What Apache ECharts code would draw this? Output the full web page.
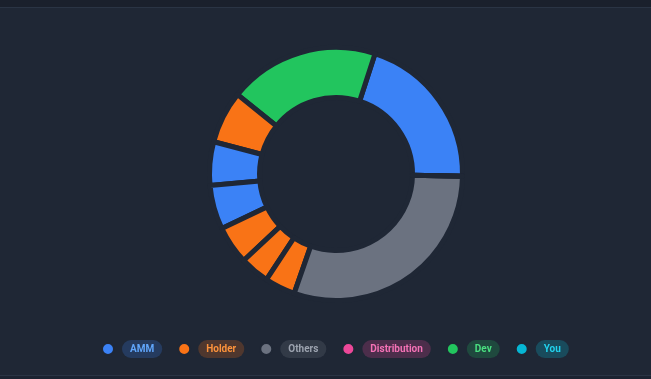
<!DOCTYPE html>
<html>
<head>
<meta charset="utf-8">
<script src="https://cdn.jsdelivr.net/npm/echarts@6/dist/echarts.min.js"></script>
<style>
html,body{margin:0;padding:0;width:651px;height:379px;overflow:hidden;}
body{background:linear-gradient(to bottom,#1a202c 0px,#1a202c 7px,#2a3444 7px,#2a3444 8px,#1f2735 8px,#1f2735 375px,#2a3444 375px,#2a3444 376px,#1c2331 376px);}
#chart{width:651px;height:379px;}
</style>
</head>
<body>
<div id="chart"></div>
<script>
// Legend categories
const categories = ['AMM', 'Holder', 'Others', 'Distribution', 'Dev', 'You'];
const categoryColors = ['#3b82f6', '#f97316', '#6b7280', '#ec4899', '#22c55e', '#06b6d4'];
const categoryText = ['#60a5fa', '#fb923c', '#9ca3af', '#f472b6', '#4ade80', '#22d3ee'];
const categoryPill = ['rgba(59,130,246,0.22)', 'rgba(249,115,22,0.22)', 'rgba(107,114,128,0.25)', 'rgba(236,72,153,0.22)', 'rgba(34,197,94,0.22)', 'rgba(6,182,212,0.25)'];

// Slices (counter-clockwise from the right), each with its category and share (%)
const sliceCategory = ['AMM', 'Dev', 'Holder', 'AMM', 'AMM', 'Holder', 'Holder', 'Holder', 'Others', 'Distribution', 'You'];
const sliceValue = [20.3, 19.2, 6.7, 5.55, 5.65, 4.9, 3.75, 3.9, 30.1, 0, 0];

const chart = echarts.init(document.getElementById('chart'), null, {renderer: 'canvas'});

const pieData = sliceCategory.map((c, i) => ({
  name: c,
  value: sliceValue[i],
  itemStyle: {color: categoryColors[categories.indexOf(c)]}
}));

const legendData = categories.map((c, i) => ({
  name: c,
  itemStyle: {color: categoryColors[i]},
  textStyle: {
    rich: {
      s: {width: 3},
      n: {
        color: categoryText[i],
        backgroundColor: categoryPill[i],
        fontFamily: 'Roboto',
        fontSize: 10,
        fontWeight: 'bold',
        lineHeight: 11,
        padding: [4, 8],
        borderRadius: 10
      }
    }
  }
}));

chart.setOption({
  backgroundColor: 'transparent',
  animation: false,
  legend: {
    left: 101,
    top: 340,
    padding: 0,
    icon: 'circle',
    itemWidth: 12,
    itemHeight: 12,
    itemGap: 15,
    selectedMode: false,
    data: legendData,
    formatter: function (name) { return '{s|}{n|' + name + '}'; },
    textStyle: {fontFamily: 'Roboto', fontSize: 10}
  },
  series: [{
    type: 'pie',
    center: [336, 174],
    radius: [76.5, 126.5],
    startAngle: -1,
    clockwise: false,
    label: {show: false},
    labelLine: {show: false},
    emphasis: {disabled: true},
    itemStyle: {borderColor: '#1f2735', borderWidth: 5},
    data: pieData
  }]
});
</script>
</body>
</html>
